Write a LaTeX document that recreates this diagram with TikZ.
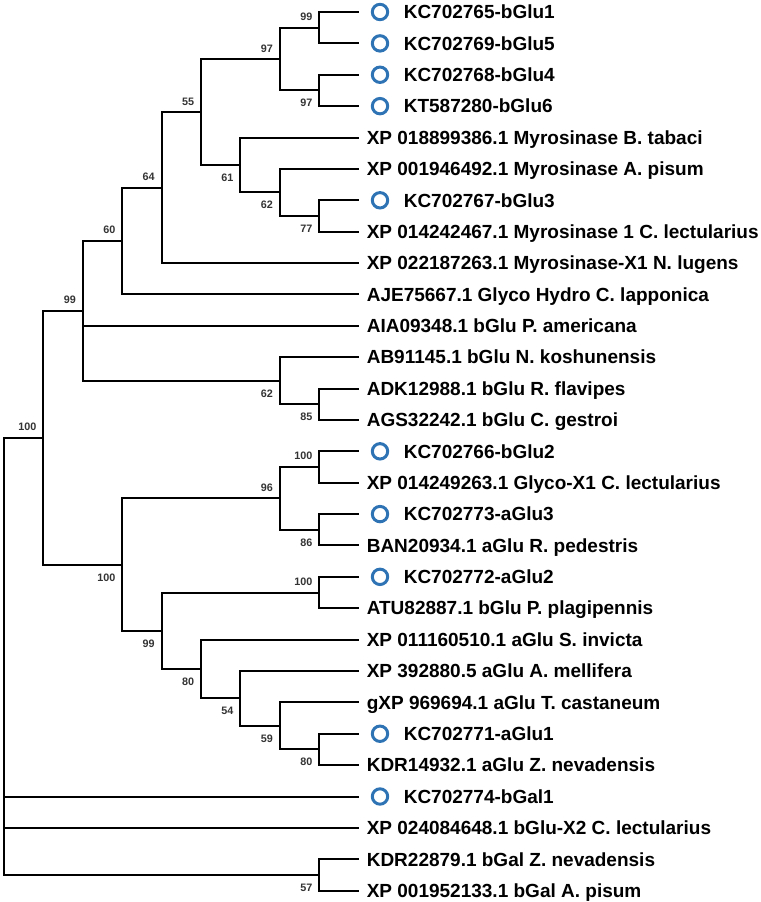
\documentclass[tikz,border=0pt]{standalone}
\usepackage{fontspec}
\setmainfont{Liberation Sans}
\definecolor{ringblue}{HTML}{2E74B5}
\definecolor{bootgray}{HTML}{333333}
\usetikzlibrary{calc}

\tikzset{
  branch/.style={line width=2pt, black},
  leaf/.style={anchor=west, inner ysep=0pt, text height=13.5pt, text depth=0pt,
    font=\fontsize{19pt}{20pt}\selectfont\bfseries},
  xp/.style={leaf, inner xsep=8pt},
  kc/.style={leaf, inner xsep=45pt},
  ring/.style={draw=ringblue, line width=3pt},
  boot/.style={inner sep=0pt, text=bootgray, font=\fontsize{10.8pt}{12pt}\selectfont\bfseries},
  bsup/.style={label={[boot, label distance=9.5pt]above left:#1}},
  bsdn/.style={label={[boot, label distance=9.5pt, yshift=-2pt]below left:#1}}
}

\begin{document}
\begin{tikzpicture}[x=39.4pt, y=-31.38pt]
  \useasboundingbox (-0.1015,0.6176) rectangle (19.188,29.362);

  % Leaf nodes
  \foreach \k/\s/\txt in {1/kc/KC702765-bGlu1, 2/kc/KC702769-bGlu5, 3/kc/KC702768-bGlu4,
      4/kc/KT587280-bGlu6, 5/xp/XP 018899386.1 Myrosinase B. tabaci,
      6/xp/XP 001946492.1 Myrosinase A. pisum, 7/kc/KC702767-bGlu3,
      8/xp/XP 014242467.1 Myrosinase 1 C. lectularius,
      9/xp/XP 022187263.1 Myrosinase-X1 N. lugens,
      10/xp/AJE75667.1 Glyco Hydro C. lapponica, 11/xp/AIA09348.1 bGlu P. americana,
      12/xp/AB91145.1 bGlu N. koshunensis, 13/xp/ADK12988.1 bGlu R. flavipes,
      14/xp/AGS32242.1 bGlu C. gestroi, 15/kc/KC702766-bGlu2,
      16/xp/XP 014249263.1 Glyco-X1 C. lectularius, 17/kc/KC702773-aGlu3,
      18/xp/BAN20934.1 aGlu R. pedestris, 19/kc/KC702772-aGlu2,
      20/xp/ATU82887.1 bGlu P. plagipennis, 21/xp/XP 011160510.1 aGlu S. invicta,
      22/xp/XP 392880.5 aGlu A. mellifera, 23/xp/gXP 969694.1 aGlu T. castaneum,
      24/kc/KC702771-aGlu1, 25/xp/KDR14932.1 aGlu Z. nevadensis,
      26/kc/KC702774-bGal1, 27/xp/XP 024084648.1 bGlu-X2 C. lectularius,
      28/xp/KDR22879.1 bGal Z. nevadensis, 29/xp/XP 001952133.1 bGal A. pisum}
    \node [\s] (l\k) at (9,\k) {\txt};

  % Own sequences
  \foreach \k in {1,2,3,4,7,15,17,19,24,26}
    \draw [ring] ([xshift=21.4pt]l\k.west) circle (7.7pt);

  % Inner nodes with bootstrap values
  \coordinate [bsup=99] (a) at (8,1.5);
  \coordinate [bsdn=97] (b) at (8,3.5);
  \coordinate [bsup=97] (c) at (7,2.5);
  \coordinate [bsdn=77] (d) at (8,7.5);
  \coordinate [bsdn=62] (e) at (7,6.75);
  \coordinate [bsdn=61] (f) at (6,5.875);
  \coordinate [bsup=55] (g) at (5,4.188);
  \coordinate [bsup=64] (h) at (4,6.594);
  \coordinate [bsup=60] (i) at (3,8.297);
  \coordinate [bsdn=85] (j) at (8,13.5);
  \coordinate [bsdn=62] (k) at (7,12.75);
  \coordinate [bsup=99] (m) at (2,10.523);
  \coordinate [bsup=100] (n) at (8,15.5);
  \coordinate [bsdn=86] (o) at (8,17.5);
  \coordinate [bsup=96] (p) at (7,16.5);
  \coordinate [bsup=100] (q) at (8,19.5);
  \coordinate [bsdn=80] (r) at (8,24.5);
  \coordinate [bsdn=59] (s) at (7,23.75);
  \coordinate [bsdn=54] (t) at (6,22.875);
  \coordinate [bsdn=80] (u) at (5,21.938);
  \coordinate [bsdn=99] (v) at (4,20.719);
  \coordinate [bsdn=100] (w) at (3,18.609);
  \coordinate [bsup=100] (x) at (1,14.566);
  \coordinate [bsdn=57] (y) at (8,28.5);
  \coordinate (root) at (0,21.533);

  % Branches
  \foreach \p/\c in {a/l1.west, a/l2.west, b/l3.west, b/l4.west, c/a, c/b,
      d/l7.west, d/l8.west, e/l6.west, e/d, f/l5.west, f/e, g/c, g/f,
      h/g, h/l9.west, i/h, i/l10.west, j/l13.west, j/l14.west, k/l12.west, k/j,
      m/i, m/l11.west, m/k, n/l15.west, n/l16.west, o/l17.west, o/l18.west,
      p/n, p/o, q/l19.west, q/l20.west, r/l24.west, r/l25.west, s/l23.west, s/r,
      t/l22.west, t/s, u/l21.west, u/t, v/q, v/u, w/p, w/v, x/m, x/w,
      y/l28.west, y/l29.west, root/x, root/l26.west, root/l27.west, root/y}
    \draw [branch] (\p) |- (\c);
\end{tikzpicture}
\end{document}
